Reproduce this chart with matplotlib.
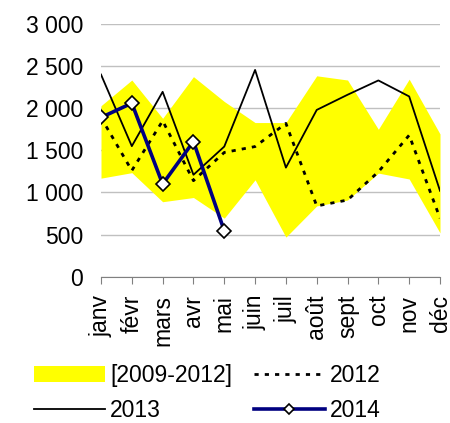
import matplotlib
matplotlib.use("Agg")
import matplotlib.pyplot as plt
from matplotlib.ticker import FuncFormatter

plt.rcParams['font.family'] = ['Liberation Sans', 'DejaVu Sans']

mois = ["janv", "févr", "mars", "avr", "mai", "juin", "juil", "août", "sept", "oct", "nov", "déc"]

# enveloppe min / max 2009-2012
bande_min = [1170, 1235, 890, 940, 695, 1150, 470, 840, 910, 1230, 1160, 520]
bande_max = [2030, 2335, 1880, 2375, 2080, 1830, 1830, 2385, 2335, 1750, 2345, 1695]

v2012 = [1890, 1260, 1850, 1140, 1475, 1545, 1820, 840, 910, 1245, 1680, 695]
v2013 = [2400, 1550, 2195, 1210, 1545, 2455, 1295, 1980, 2160, 2330, 2140, 1020]
v2014 = [1890, 2060, 1100, 1605, 545]

x = list(range(len(mois)))
fs = 16.5

fig = plt.figure(figsize=(4.5, 4.23), dpi=100)
ax = fig.add_axes([101/450, 1 - 276.7/423, (440 - 101)/450, (276.7 - 24)/423])

band = ax.fill_between(x, bande_min, bande_max, color='#ffff00', linewidth=0, label='[2009-2012]')
l12, = ax.plot(x, v2012, color='black', linestyle=(0, (1.5, 2.2)), linewidth=2, label='2012')
l13, = ax.plot(x, v2013, color='black', linewidth=1.3, label='2013')
l14, = ax.plot(x[:len(v2014)], v2014, color='#000080', linewidth=2.6, marker='D',
               markersize=7, markerfacecolor='white', markeredgecolor='black',
               markeredgewidth=1.2, label='2014')

ax.set_xlim(0, 11)
ax.set_ylim(0, 3000)
ax.set_yticks(range(0, 3001, 500))
ax.yaxis.set_major_formatter(FuncFormatter(lambda v, p: f"{int(v):,}".replace(",", " ")))
ax.set_xticks(x)
ax.set_xticklabels(mois, rotation=90)

ax.grid(axis='y', color='#c0c0c0', linewidth=1)
ax.set_axisbelow(True)
for s in ['left', 'right', 'top']:
    ax.spines[s].set_visible(False)
ax.spines['bottom'].set_color('#808080')
ax.tick_params(axis='y', length=0, labelsize=fs, pad=13)
ax.tick_params(axis='x', length=5, color='#808080', labelsize=fs, pad=8)

fig.legend([band, l13, l12, l14], ['[2009-2012]', '2013', '2012', '2014'],
           ncol=2, loc='upper left', bbox_to_anchor=(34/450, 1 - 364/423),
           frameon=False, fontsize=fs, handlelength=3.1, handletextpad=0.22,
           columnspacing=0.95, labelspacing=0.52, borderpad=0, borderaxespad=0,
           numpoints=1, markerscale=0.75)

fig.savefig("out.png", dpi=100)
